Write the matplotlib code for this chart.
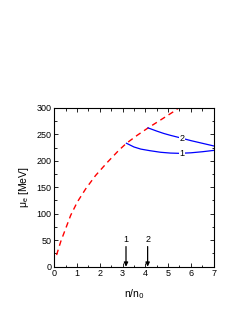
import matplotlib
matplotlib.use("Agg")
import matplotlib.pyplot as plt
import numpy as np
from matplotlib.ticker import MultipleLocator

plt.rcParams['font.family'] = ['Liberation Sans', 'DejaVu Sans']

# red dashed curve
red_n = [0.1, 0.28, 0.5, 0.72, 1.01, 1.38, 1.81, 2.33, 2.84, 3.17, 3.64, 4.12, 4.67, 5.25, 5.47]
red_mu = [22, 47, 72, 97, 122, 147, 172, 197, 220, 233, 248, 262, 277, 293, 300]
# blue curve 1
c1_n = [3.17, 3.5, 3.8, 4.2, 4.67, 5.1, 5.5, 6.0, 6.5, 7.0]
c1_mu = [233, 226, 222, 219, 216, 214.5, 214, 215, 217, 219.5]
# blue curve 2
c2_n = [4.12, 4.5, 4.81, 5.1, 5.47, 6.0, 6.5, 7.0]
c2_mu = [262, 256, 251.5, 248, 244, 238, 233, 228]
# arrows
arrow_n = [3.15, 4.1]
arrow_labels = ['1', '2']
curve_labels = ['1', '2']
curve_label_n = [5.6, 5.6]

fig = plt.figure(figsize=(2.45, 3.17), dpi=100)
ax = fig.add_axes([0.2216, 0.1587, 0.6504, 0.5013])

ax.plot(red_n, red_mu, color='red', linestyle=(0, (4, 3)), linewidth=1.0)
ax.plot(c1_n, c1_mu, color='blue', linewidth=0.9)
ax.plot(c2_n, c2_mu, color='blue', linewidth=0.9)

for lab, xn, xs, ys in zip(curve_labels, curve_label_n, [c1_n, c2_n], [c1_mu, c2_mu]):
    yv = np.interp(xn, xs, ys)
    ax.text(xn, yv, lab, fontsize=6.5, ha='center', va='center',
            bbox=dict(facecolor='white', edgecolor='none', pad=0.3))

for xn, lab in zip(arrow_n, arrow_labels):
    ax.annotate('', xy=(xn, 0), xytext=(xn, 38),
                arrowprops=dict(arrowstyle='-|>', color='black', lw=0.9,
                                mutation_scale=6, shrinkA=0, shrinkB=0))
    ax.text(xn, 42, lab, fontsize=6.5, ha='center', va='bottom')

ax.set_xlim(0, 7)
ax.set_ylim(0, 300)
ax.xaxis.set_major_locator(MultipleLocator(1))
ax.xaxis.set_minor_locator(MultipleLocator(0.5))
ax.yaxis.set_major_locator(MultipleLocator(50))
ax.yaxis.set_minor_locator(MultipleLocator(25))
ax.tick_params(which='both', direction='in', top=True, right=True, labelsize=6.5,
               width=0.6, pad=2)
ax.tick_params(which='major', length=3)
ax.tick_params(which='minor', length=1.8)
for s in ax.spines.values():
    s.set_linewidth(0.8)

ax.set_xlabel(r'n/n$_0$', fontsize=7.5, labelpad=6)
ax.set_ylabel(r'$\mathregular{\mu_e}$ [MeV]', fontsize=7.5, labelpad=4)

fig.savefig('out.png', dpi=100)
